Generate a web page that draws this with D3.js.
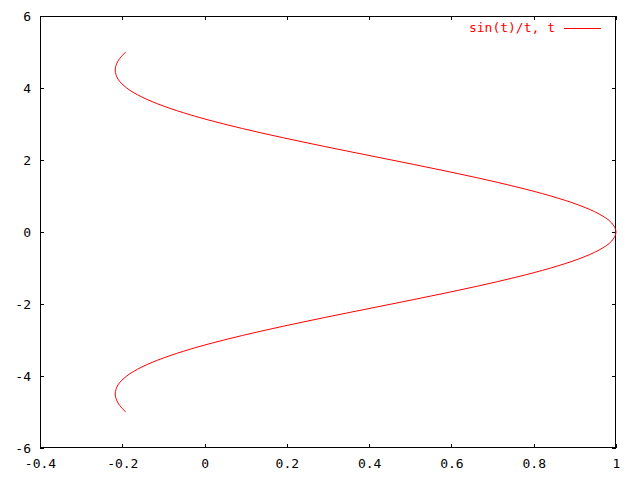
<!DOCTYPE html>
<html><head><meta charset="utf-8">
<script src="https://cdn.jsdelivr.net/npm/d3@7"></script>
<style>body{margin:0;background:#fff}svg{display:block}</style>
</head><body>
<script>
// parameter t (y values) and read-off x values (sin(t)/t curve)
const tValues = [-5,-4.75,-4.5,-4.25,-4,-3.75,-3.5,-3.25,-3,-2.75,-2.5,-2.25,-2,-1.75,-1.5,-1.25,-1,-0.75,-0.5,-0.25,0,
  0.25,0.5,0.75,1,1.25,1.5,1.75,2,2.25,2.5,2.75,3,3.25,3.5,3.75,4,4.25,4.5,4.75,5];
const xValues = [-0.1918,-0.2104,-0.2172,-0.2106,-0.1892,-0.1524,-0.1002,-0.0333,0.0470,0.1388,0.2394,0.3458,0.4546,0.5623,0.6650,0.7592,0.8415,0.9089,0.9589,0.9896,1,
  0.9896,0.9589,0.9089,0.8415,0.7592,0.6650,0.5623,0.4546,0.3458,0.2394,0.1388,0.0470,-0.0333,-0.1002,-0.1524,-0.1892,-0.2106,-0.2172,-0.2104,-0.1918];
const xTicks = [-0.4,-0.2,0,0.2,0.4,0.6,0.8,1];
const yTicks = [-6,-4,-2,0,2,4,6];
const seriesLabel = "sin(t)/t, t";

const W=640,H=480, L=40,R=616,T=16,B=448;
const svg=d3.select("body").append("svg").attr("width",W).attr("height",H);
const x=d3.scaleLinear().domain([-0.4,1]).range([L,R]);
const y=d3.scaleLinear().domain([-6,6]).range([B,T]);
const font="'DejaVu Sans Mono', monospace";

const fmt=d=>String(+d.toFixed(1));
// axes with inward ticks
const ax=(g,axis)=>{g.call(axis);g.select(".domain").remove();
  g.selectAll("line").attr("stroke","#000").attr("shape-rendering","crispEdges");
  g.selectAll("text").attr("font-family",font).attr("font-size",13).attr("fill","#000");};
svg.append("g").attr("transform",`translate(0,${B})`).call(g=>ax(g,d3.axisBottom(x).tickValues(xTicks).tickFormat(fmt).tickSize(-4).tickPadding(11)));
svg.append("g").attr("transform",`translate(0,${T})`).call(g=>{ax(g,d3.axisTop(x).tickValues(xTicks).tickSize(-4));g.selectAll("text").remove();});
svg.append("g").attr("transform",`translate(${L},0)`).call(g=>ax(g,d3.axisLeft(y).tickValues(yTicks).tickFormat(fmt).tickSize(-4).tickPadding(9)));
svg.append("g").attr("transform",`translate(${R},0)`).call(g=>{ax(g,d3.axisRight(y).tickValues(yTicks).tickSize(-4));g.selectAll("text").remove();});

svg.append("rect").attr("x",L+0.5).attr("y",T+0.5).attr("width",R-L-1).attr("height",B-T-1)
  .attr("fill","none").attr("stroke","#000").attr("shape-rendering","crispEdges");

const pts=tValues.map((t,i)=>[xValues[i],t]);
const line=d3.line().x(d=>x(d[0])).y(d=>y(d[1])).curve(d3.curveCatmullRom);
svg.append("path").datum(pts).attr("d",line).attr("fill","none").attr("stroke","#f00").attr("stroke-width",1);

// legend
svg.append("text").attr("x",555).attr("y",32).attr("text-anchor","end").attr("font-family",font)
  .attr("font-size",13).attr("fill","#f00").text(seriesLabel);
svg.append("line").attr("x1",564).attr("x2",601).attr("y1",28.5).attr("y2",28.5).attr("stroke","#f00").attr("shape-rendering","crispEdges");
</script>
</body></html>
